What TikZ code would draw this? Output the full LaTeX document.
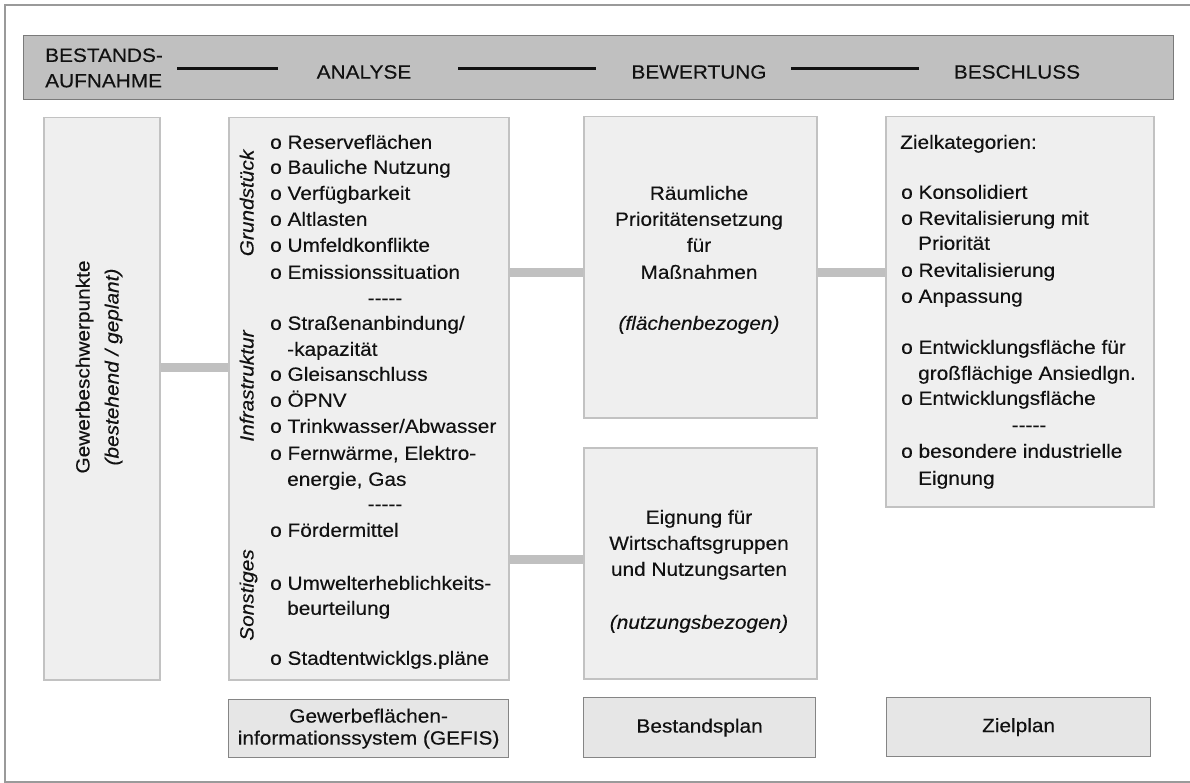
\documentclass[tikz,border=0pt]{standalone}
\usepackage{fontspec}
\newfontfamily\lsans{Liberation Sans}[FakeStretch=1.085, FakeBold=0.25]
\usetikzlibrary{calc}
\pgfdeclarelayer{bg}
\pgfsetlayers{bg,main}
\definecolor{hdrfill}{HTML}{C0C0C0}
\definecolor{hdrline}{HTML}{7A7A7A}
\definecolor{boxfill}{HTML}{EFEFEF}
\definecolor{boxline}{HTML}{C2C2C2}
\definecolor{planfill}{HTML}{E6E6E6}
\definecolor{planline}{HTML}{858585}
\definecolor{conncol}{HTML}{C0C0C0}
\definecolor{txt}{HTML}{111111}
\definecolor{framecol}{HTML}{9A9A9A}
\tikzset{
  txtf/.style={font=\lsans\fontsize{19.2}{22}\selectfont, text=txt, inner sep=0pt},
  itxt/.style={txtf, font=\lsans\itshape\fontsize{19.2}{22}\selectfont},
  box/.style={draw=boxline, fill=boxfill, line width=1.5pt, inner sep=0pt, anchor=north west},
  plan/.style={draw=planline, fill=planfill, line width=1.2pt, inner sep=0pt, anchor=north west},
  connector/.style={draw=conncol, line width=9pt},
  hline/.style={draw=txt, line width=2.5pt},
}
\begin{document}
\begin{tikzpicture}[x=1pt,y=-1pt]
\useasboundingbox (0,0) rectangle (1190,783);
\draw[framecol, line width=2pt] (1200,5) -- (5,5) -- (5,782) -- (1200,782);
% header
\node[draw=hdrline, fill=hdrfill, line width=1.2pt, inner sep=0pt, anchor=north west,
      minimum width=1150pt, minimum height=64pt] (hdr) at (23,35) {};
\node[txtf, anchor=west, align=left, font=\lsans\fontsize{19.2}{25.5}\selectfont] (h1) at (45,68) {BESTANDS-\\AUFNAHME};
\node[txtf] (h2) at (364,72) {ANALYSE};
\node[txtf] (h3) at (699,72) {BEWERTUNG};
\node[txtf] (h4) at (1017,72) {BESCHLUSS};
\coordinate (l1a) at (177,68.5); \coordinate (l1b) at (278,68.5);
\coordinate (l2a) at (458,68.5); \coordinate (l2b) at (596,68.5);
\coordinate (l3a) at (791,68.5); \coordinate (l3b) at (919,68.5);
\draw[hline] (l1a) -- (l1b);
\draw[hline] (l2a) -- (l2b);
\draw[hline] (l3a) -- (l3b);
% boxes
\node[box, minimum width=116pt, minimum height=562pt] (gew) at (43,117) {};
\node[box, minimum width=280pt, minimum height=562pt] (ana) at (228,117) {};
\node[box, minimum width=233pt, minimum height=301pt] (rau) at (583,116) {};
\node[box, minimum width=233pt, minimum height=231pt] (eig) at (583,447) {};
\node[box, minimum width=268pt, minimum height=390pt] (ziel) at (885,116) {};
\node[plan, minimum width=280pt, minimum height=58pt] (gefis) at (228,699) {};
\node[plan, minimum width=232pt, minimum height=60pt] (best) at (583,697) {};
\node[plan, minimum width=264pt, minimum height=59pt] (zplan) at (886,697) {};
% connectors
\coordinate (y1) at (0,367);
\coordinate (y2) at (0,273);
\coordinate (y3) at (0,559);
\begin{pgfonlayer}{bg}
\draw[connector] (gew.east |- y1) -- (ana.west |- y1);
\draw[connector] (ana.east |- y2) -- (rau.west |- y2);
\draw[connector] (rau.east |- y2) -- (ziel.west |- y2);
\draw[connector] (ana.east |- y3) -- (eig.west |- y3);
\end{pgfonlayer}
% Gewerbe text
\node[txtf, rotate=90, anchor=base] (gw1) at (89.5,367) {Gewerbeschwerpunkte};
\node[itxt, rotate=90, anchor=base] (gw2) at (118.5,367) {(bestehend / geplant)};
% analysis side labels
\node[itxt, rotate=90, anchor=base] (s1) at (253.5,203) {Grundstück};
\node[itxt, rotate=90, anchor=base] (s2) at (253.5,386) {Infrastruktur};
\node[itxt, rotate=90, anchor=base] (s3) at (253.5,595) {Sonstiges};
% analysis items
\foreach \yy/\ind/\tx [count=\k] in {
  142/0/{o Reserveflächen}, 167/0/{o Bauliche Nutzung}, 193/0/{o Verfügbarkeit},
  219/0/{o Altlasten}, 245/0/{o Umfeldkonflikte}, 272/0/{o Emissionssituation},
  323/0/{o Straßenanbindung/}, 349/1/{-kapazität}, 374/0/{o Gleisanschluss},
  400/0/{o ÖPNV}, 426/0/{o Trinkwasser/Abwasser}, 453/0/{o Fernwärme, Elektro-},
  479/1/{energie, Gas}, 530/0/{o Fördermittel}, 583/0/{o Umwelterheblichkeits-},
  608/1/{beurteilung}, 658/0/{o Stadtentwicklgs.pläne}}
  \node[txtf, anchor=base west] (a\k) at (270+\ind*17, \yy+6.8) {\tx};
\node[txtf, anchor=base] (ad1) at (385,304.5) {-----};
\node[txtf, anchor=base] (ad2) at (385,510.5) {-----};
% Raeumliche
\foreach \yy/\tx [count=\k] in {193/{Räumliche}, 219/{Prioritätensetzung}, 245/{für}, 272/{Maßnahmen}}
  \node[txtf, anchor=base] (r\k) at (699, \yy+6.8) {\tx};
\node[itxt, anchor=base] (r5) at (699,329.8) {(flächenbezogen)};
% Eignung
\foreach \yy/\tx [count=\k] in {517/{Eignung für}, 543/{Wirtschaftsgruppen}, 569/{und Nutzungsarten}}
  \node[txtf, anchor=base] (e\k) at (699, \yy+6.8) {\tx};
\node[itxt, anchor=base] (e4) at (699,628.8) {(nutzungsbezogen)};
% Ziel
\node[txtf, anchor=base west] (z0) at (900,148.8) {Zielkategorien:};
\foreach \yy/\ind/\tx [count=\k] in {
  192/0/{o Konsolidiert}, 218/0/{o Revitalisierung mit}, 243/1/{Priorität},
  270/0/{o Revitalisierung}, 296/0/{o Anpassung}, 347/0/{o Entwicklungsfläche für},
  373/1/{großflächige Ansiedlgn.}, 398/0/{o Entwicklungsfläche},
  451/0/{o besondere industrielle}, 478/1/{Eignung}}
  \node[txtf, anchor=base west] (z\k) at (901+\ind*17, \yy+6.8) {\tx};
\node[txtf, anchor=base] (zd) at (1029,431.5) {-----};
% plan labels
\node[txtf, align=center] (gefist) at (gefis.center) {Gewerbeflächen-\\informationssystem (GEFIS)};
\node[txtf] (bestt) at (best.center) {Bestandsplan};
\node[txtf] (zplant) at (zplan.center) {Zielplan};
\end{tikzpicture}
\end{document}
